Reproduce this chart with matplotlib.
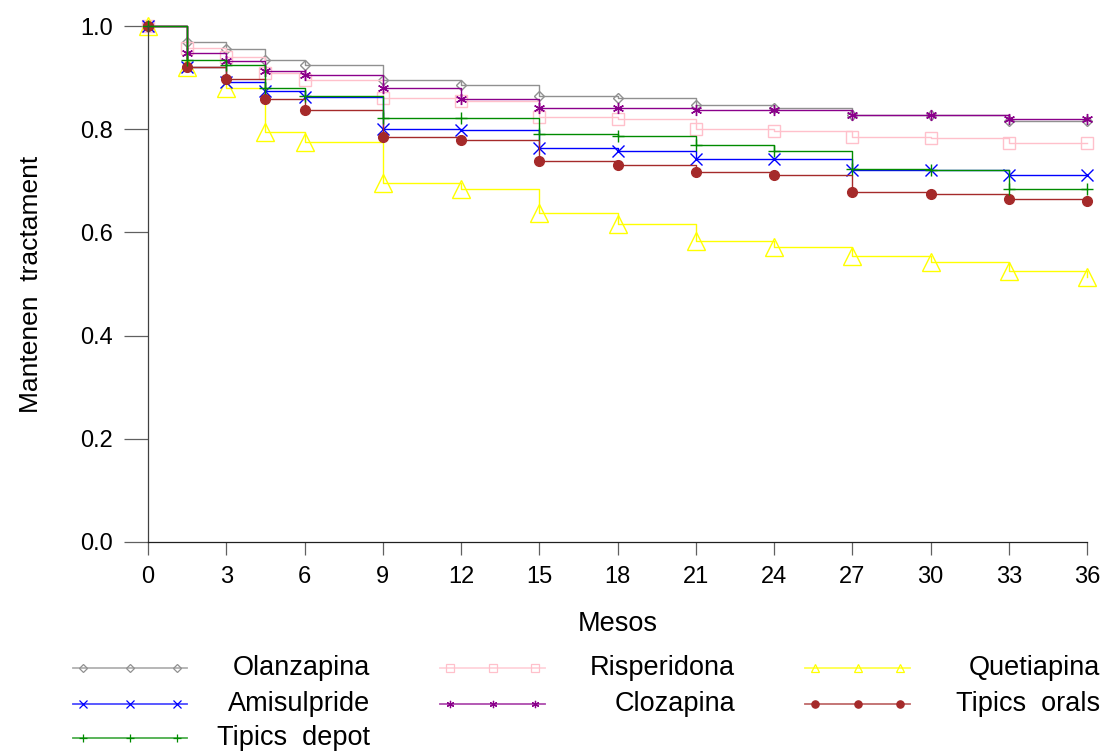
import matplotlib
matplotlib.use("Agg")
import matplotlib.pyplot as plt
from matplotlib.lines import Line2D

plt.rcParams.update({
    'font.family': ['Liberation Sans', 'DejaVu Sans'],
    'font.size': 17,
    'axes.linewidth': 0.9,
})

# survival estimates (months -> proportion still on treatment)
mesos = [0, 1.5, 3, 4.5, 6, 9, 12, 15, 18, 21, 24, 27, 30, 33, 36]

olanzapina = [1.0, 0.969, 0.956, 0.935, 0.924, 0.896, 0.885, 0.865, 0.860, 0.846, 0.842, 0.828, 0.828, 0.816, 0.816]
risperidona = [1.0, 0.958, 0.939, 0.909, 0.895, 0.861, 0.855, 0.824, 0.820, 0.801, 0.797, 0.785, 0.782, 0.773, 0.773]
quetiapina = [1.0, 0.920, 0.879, 0.795, 0.775, 0.695, 0.685, 0.638, 0.616, 0.584, 0.572, 0.555, 0.543, 0.525, 0.514]
amisulpride = [1.0, 0.921, 0.891, 0.874, 0.863, 0.800, 0.799, 0.763, 0.757, 0.743, 0.742, 0.721, 0.720, 0.712, 0.712]
clozapina = [1.0, 0.947, 0.932, 0.913, 0.906, 0.879, 0.858, 0.842, 0.842, 0.837, 0.837, 0.828, 0.828, 0.820, 0.820]
tipics_orals = [1.0, 0.920, 0.897, 0.859, 0.837, 0.785, 0.779, 0.738, 0.731, 0.718, 0.711, 0.678, 0.674, 0.665, 0.661]
tipics_depot = [1.0, 0.934, 0.924, 0.879, 0.865, 0.821, 0.821, 0.791, 0.787, 0.770, 0.757, 0.722, 0.720, 0.685, 0.685]

x_ticks = [0, 3, 6, 9, 12, 15, 18, 21, 24, 27, 30, 33, 36]
y_ticks = [0.0, 0.2, 0.4, 0.6, 0.8, 1.0]

# name, values, colour, marker, marker size, filled
series = [
    ("Olanzapina", olanzapina, "#909090", "D", 5, False),
    ("Risperidona", risperidona, "#FFC0CB", "s", 8, False),
    ("Quetiapina", quetiapina, "#FFFF00", "^", 13, False),
    ("Amisulpride", amisulpride, "#0000FF", "x", 8, False),
    ("Clozapina", clozapina, "#8B008B", (6, 2, 0), 8, False),
    ("Tipics orals", tipics_orals, "#A52A2A", "o", 7, True),
    ("Tipics depot", tipics_depot, "#008B00", "+", 9, False),
]

fig = plt.figure(figsize=(11.07, 7.53), dpi=100)
ax = fig.add_axes([148 / 1107, 1 - 542 / 753, (1087 - 148) / 1107, (542 - 26) / 753])

for name, vals, col, mk, ms, filled in series:
    ax.step(mesos, vals, where="post", color=col, lw=1.0, clip_on=False)
    ax.plot(mesos, vals, linestyle="none", marker=mk, markersize=ms,
            markerfacecolor=col if filled else "none", markeredgecolor=col,
            markeredgewidth=1.0, clip_on=False)

ax.set_xlim(0, 36)
ax.set_ylim(0, 1)
ax.set_xticks(x_ticks)
ax.set_yticks(y_ticks)
ax.set_yticklabels([f"{v:.1f}" for v in y_ticks])
for s in ("top", "right"):
    ax.spines[s].set_visible(False)
ax.spines["left"].set_color("#404040")
ax.spines["bottom"].set_color("#202020")
ax.tick_params(axis="y", length=17, width=0.9, color="#606060", pad=8)
ax.tick_params(axis="x", length=9.5, width=0.9, color="#606060", pad=8)

ax.set_xlabel("Mesos", fontsize=19.5, labelpad=16)
ax.yaxis.set_label_coords(-0.112, 0.5)
ax.set_ylabel("Mantenen  tractament", fontsize=19)

# legend drawn by hand: three columns, marker line on the left, text right aligned
col_line = [(73, 187), (440, 545), (805, 910)]
col_text = [370, 735, 1100]
row_y = [668, 704, 738]
legend_pos = [(0, 0), (1, 0), (2, 0), (0, 1), (1, 1), (2, 1), (0, 2)]

for (name, vals, col, mk, ms, filled), (c, r) in zip(series, legend_pos):
    x0, x1 = col_line[c]
    y = 1 - row_y[r] / 753
    fig.add_artist(Line2D([x0 / 1107, x1 / 1107], [y, y], color=col, lw=1.3, alpha=0.7))
    mx = [(x0 + 10) / 1107, (x0 + x1) / 2 / 1107, (x1 - 10) / 1107]
    lms = 6 if mk == "^" else min(ms, 7) * 0.75
    fig.add_artist(Line2D(mx, [y] * 3, linestyle="none", marker=mk, markersize=lms,
                          markerfacecolor=col if filled else "none", markeredgecolor=col,
                          markeredgewidth=0.9))
    fig.text(col_text[c] / 1107, y, name.replace(" ", "  "), ha="right", va="center", fontsize=19.5)

fig.savefig("out.png", dpi=100)
